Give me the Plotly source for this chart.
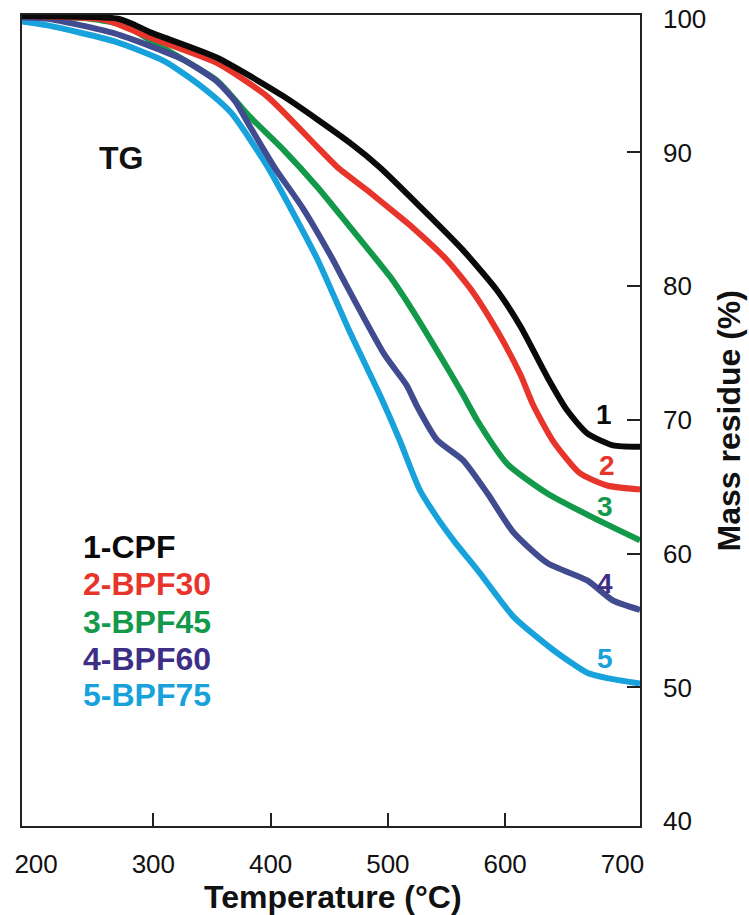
import plotly.graph_objects as go

# ---- data (Temperature in °C, mass residue in %) ----
cpf_t = [188, 270, 285, 297, 354, 411, 468, 493, 536, 564, 593, 613, 636, 653, 670, 692, 715]
cpf_m = [100.2, 100.0, 99.5, 99.0, 97.1, 94.2, 90.7, 88.9, 85.2, 82.7, 79.7, 77.0, 73.2, 70.7, 69.0, 68.1, 68.0]

bpf30_t = [188, 259, 297, 354, 397, 440, 457, 482, 510, 521, 550, 573, 593, 613, 624, 641, 664, 687, 715]
bpf30_m = [100.2, 99.9, 98.6, 96.7, 94.2, 90.4, 88.9, 87.2, 85.2, 84.4, 82.0, 79.5, 76.7, 73.4, 71.1, 68.4, 66.0, 65.1, 64.8]

bpf45_t = [188, 246, 276, 297, 354, 382, 411, 440, 468, 493, 502, 521, 550, 564, 576, 602, 636, 675, 715]
bpf45_m = [100.2, 100.0, 99.5, 98.4, 95.4, 92.7, 90.2, 87.4, 84.4, 81.7, 80.7, 78.2, 74.0, 71.9, 70.0, 66.7, 64.5, 62.7, 61.0]

bpf60_t = [188, 210, 267, 324, 353, 370, 382, 404, 427, 453, 462, 497, 516, 525, 542, 564, 585, 607, 636, 670, 692, 715]
bpf60_m = [100.1, 100.0, 98.9, 97.0, 95.4, 93.8, 92.0, 88.8, 85.9, 82.0, 80.5, 74.9, 72.6, 71.0, 68.5, 67.0, 64.5, 61.6, 59.3, 58.0, 56.5, 55.8]

bpf75_t = [188, 210, 267, 310, 340, 366, 397, 416, 440, 468, 493, 510, 527, 542, 556, 578, 607, 641, 670, 687, 715]
bpf75_m = [99.8, 99.5, 98.3, 96.8, 95.0, 93.0, 89.0, 86.0, 82.0, 76.5, 71.9, 68.5, 64.8, 62.7, 61.0, 58.6, 55.3, 52.8, 51.1, 50.7, 50.3]

series_names = ["1-CPF", "2-BPF30", "3-BPF45", "4-BPF60", "5-BPF75"]
curve_numbers = ["1", "2", "3", "4", "5"]
x_ticks = [200, 300, 400, 500, 600, 700]
y_ticks = [40, 50, 60, 70, 80, 90, 100]

line_colors = ["#0a0a0a", "#e8352b", "#12994a", "#414b8f", "#18a2dc"]
text_colors = ["#0a0a0a", "#e8352b", "#12994a", "#3d2f86", "#18a2dc"]

series = [(cpf_t, cpf_m), (bpf30_t, bpf30_m), (bpf45_t, bpf45_m), (bpf60_t, bpf60_m), (bpf75_t, bpf75_m)]

FONT = "Liberation Sans, Arial, sans-serif"

fig = go.Figure()
draw_order = [4, 2, 3, 1, 0]
for i in draw_order:
    t, m = series[i]
    fig.add_trace(go.Scatter(x=t, y=m, mode="lines", name=series_names[i],
                             line=dict(color=line_colors[i], width=6, shape="spline", smoothing=0.6),
                             showlegend=False))

# "TG" label
fig.add_annotation(x=272, y=89.6, text="<b>TG</b>", showarrow=False,
                   font=dict(family=FONT, size=32, color="#111"), xanchor="center", yanchor="middle")

# legend text block
legend_y = [60.5, 57.7, 54.9, 52.1, 49.4]
for name, col, yy in zip(series_names, text_colors, legend_y):
    fig.add_annotation(x=238, y=yy, text="<b>%s</b>" % name, showarrow=False,
                       font=dict(family=FONT, size=32, color=col), xanchor="left", yanchor="middle")

# curve number labels
num_pos = [(684, 70.4), (687, 66.6), (685, 63.5), (685, 57.8), (685, 52.2)]
for lab, col, (xx, yy) in zip(curve_numbers, text_colors, num_pos):
    fig.add_annotation(x=xx, y=yy, text="<b>%s</b>" % lab, showarrow=False,
                       font=dict(family=FONT, size=28, color=col), xanchor="center", yanchor="middle")

# axis titles
fig.add_annotation(xref="paper", yref="paper", x=0.503, y=-0.0875, text="<b>Temperature (°C)</b>",
                   showarrow=False, font=dict(family=FONT, size=32, color="#111"),
                   xanchor="center", yanchor="middle")
fig.add_annotation(xref="paper", yref="paper", x=1.144, y=0.50, text="<b>Mass residue (%)</b>",
                   textangle=-90, showarrow=False, font=dict(family=FONT, size=32, color="#111"),
                   xanchor="center", yanchor="middle")

fig.update_layout(
    width=749, height=915,
    margin=dict(l=22, r=109, t=15, b=89),
    paper_bgcolor="white", plot_bgcolor="white",
    font=dict(family=FONT, color="#111"),
    xaxis=dict(range=[188, 715], tickvals=x_ticks, ticks="", showgrid=False, zeroline=False,
               automargin=False,
               showline=True, linecolor="#222", linewidth=1.5, mirror=True,
               tickfont=dict(size=26, family=FONT, color="#111"), ticklabelstandoff=14,
               minor=dict(tickvals=[300, 400, 500, 600], ticks="inside", ticklen=13,
                          tickwidth=1.5, tickcolor="#222")),
    yaxis=dict(range=[39.64, 100.28], side="right", tickvals=y_ticks, ticks="", showgrid=False,
               automargin=False,
               zeroline=False, showline=True, linecolor="#222", linewidth=1.5, mirror=True,
               tickfont=dict(size=26, family=FONT, color="#111"), ticklabelstandoff=16,
               minor=dict(tickvals=[50, 60, 70, 80, 90], ticks="inside", ticklen=13,
                          tickwidth=1.5, tickcolor="#222")),
)

fig.write_html("out.html", config={"displayModeBar": False},
               post_script="document.body.style.margin='0';document.body.style.overflow='hidden';")
